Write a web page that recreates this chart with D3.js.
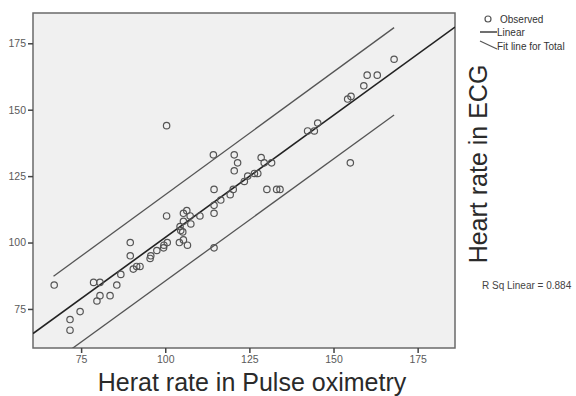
<!DOCTYPE html>
<html>
<head>
<meta charset="utf-8">
<script src="https://cdn.jsdelivr.net/npm/d3@7"></script>
<style>
  body { margin: 0; background: #fff; }
  text { font-family: 'Liberation Sans', Arial, sans-serif; }
</style>
</head>
<body>
<svg id="chart" width="576" height="396"></svg>
<script>
// observed pairs: pulse oximetry (x) vs ECG (y)
const pulseHR = [67, 71.7, 71.7, 74.7, 78.7, 80.6, 80.6, 79.7, 83.6, 85.6, 86.8, 89.6, 89.6, 90.5, 91.5, 92.5,
  95.5, 95.7, 97.5, 99.5, 99.6, 100.6, 100.4, 100.4, 104.2, 105.4, 106.6, 104.4, 104.6, 105.2, 105.4, 106.4,
  107.4, 107.6, 105.4, 110.3, 114.5, 114.5, 114.5, 114.5, 114.3, 116.5, 119.3, 120.2, 120.5, 121.5, 120.5,
  123.5, 124.5, 126.5, 127.5, 128.5, 129.4, 131.6, 130.2, 133.1, 134.1, 142.3, 144.3, 145.3, 154.2, 155.2,
  155, 159, 160, 163, 168];
const ecgHR = [84, 71, 67, 74, 85, 85, 80, 78, 80, 84, 88, 100, 95, 90, 91, 91,
  94, 95, 97, 98, 99, 100, 110, 144, 100, 101, 99, 106, 104.5, 104, 111, 112,
  110, 107, 108, 110, 120, 114, 111, 98, 133, 116, 118, 120, 133, 130, 127,
  123, 125, 126, 126, 132, 130, 130, 120, 120, 120, 142, 142, 145, 154, 155,
  130, 159, 163, 163, 169];

const xTicks = [75, 100, 125, 150, 175];
const yTicks = [75, 100, 125, 150, 175];

// fit line for total
const linIntercept = 9.9;
const linSlope = 0.92;
const rSq = 0.884;

// 95% individual prediction limits, at the ends of the data range
const piX = [66.8, 168];
const piUpper = [87.3, 180.9];
const piLower = [55.0, 148.0];

const svg = d3.select('#chart');
const plot = { left: 33, right: 455, top: 13, bottom: 348 };

const xScale = d3.scaleLinear().domain([60.7, 186.1]).range([plot.left, plot.right]);
const yScale = d3.scaleLinear().domain([60.3, 186.4]).range([plot.bottom, plot.top]);

svg.append('defs').append('clipPath').attr('id', 'clip')
  .append('rect')
  .attr('x', plot.left).attr('y', plot.top)
  .attr('width', plot.right - plot.left).attr('height', plot.bottom - plot.top);

svg.append('rect')
  .attr('x', plot.left).attr('y', plot.top)
  .attr('width', plot.right - plot.left).attr('height', plot.bottom - plot.top)
  .attr('fill', '#f0f0f0')
  .attr('stroke', '#6a6a6a')
  .attr('stroke-width', 1.5);

const g = svg.append('g').attr('clip-path', 'url(#clip)');

// prediction limit lines
const line = d3.line().x((d) => xScale(d[0])).y((d) => yScale(d[1]));
[piUpper, piLower].forEach((lim) => {
  g.append('path')
    .datum(piX.map((x, i) => [x, lim[i]]))
    .attr('fill', 'none')
    .attr('stroke', '#555')
    .attr('stroke-width', 1.3)
    .attr('d', line);
});

// linear fit across the whole axis
const xd = xScale.domain();
g.append('path')
  .datum(xd.map((x) => [x, linIntercept + linSlope * x]))
  .attr('fill', 'none')
  .attr('stroke', '#222')
  .attr('stroke-width', 1.6)
  .attr('d', line);

g.selectAll('circle')
  .data(pulseHR.map((x, i) => [x, ecgHR[i]]))
  .enter()
  .append('circle')
  .attr('cx', (d) => xScale(d[0]))
  .attr('cy', (d) => yScale(d[1]))
  .attr('r', 3.2)
  .attr('fill', 'none')
  .attr('stroke', '#555')
  .attr('stroke-width', 1.2);

// axes
const xAxis = svg.append('g')
  .attr('transform', `translate(0,${plot.bottom})`)
  .call(d3.axisBottom(xScale).tickValues(xTicks).tickSize(5).tickPadding(3));
const yAxis = svg.append('g')
  .attr('transform', `translate(${plot.left},0)`)
  .call(d3.axisLeft(yScale).tickValues(yTicks).tickSize(5).tickPadding(2));
[xAxis, yAxis].forEach((ax) => {
  ax.select('.domain').remove();
  ax.selectAll('line').attr('stroke', '#444').attr('stroke-width', 1.5);
  ax.selectAll('text')
    .attr('fill', '#5a5a5a')
    .style('font-size', '10.5px')
    .style('font-family', "'Liberation Sans', Arial, sans-serif");
});

// axis titles
svg.append('text')
  .attr('x', 252)
  .attr('y', 391)
  .attr('text-anchor', 'middle')
  .attr('fill', '#2a2a2a')
  .style('font-size', '25px')
  .text('Herat rate in Pulse oximetry');

svg.append('text')
  .attr('transform', 'translate(487,164) rotate(-90)')
  .attr('text-anchor', 'middle')
  .attr('fill', '#2a2a2a')
  .style('font-size', '25px')
  .text('Heart rate in ECG');

// legend
const leg = svg.append('g');
leg.append('circle').attr('cx', 488).attr('cy', 19).attr('r', 3)
  .attr('fill', 'none').attr('stroke', '#555').attr('stroke-width', 1.2);
leg.append('text').attr('x', 500).attr('y', 23).text('Observed');
leg.append('line').attr('x1', 480).attr('y1', 32).attr('x2', 497).attr('y2', 32)
  .attr('stroke', '#222').attr('stroke-width', 1.3);
leg.append('text').attr('x', 497).attr('y', 36).text('Linear');
leg.append('line').attr('x1', 480).attr('y1', 41).attr('x2', 497).attr('y2', 49)
  .attr('stroke', '#555').attr('stroke-width', 1.2);
leg.append('text').attr('x', 497).attr('y', 50).text('Fit line for Total');
leg.selectAll('text').attr('fill', '#333').style('font-size', '10px');

svg.append('text')
  .attr('x', 482)
  .attr('y', 289)
  .attr('fill', '#444')
  .style('font-size', '10px')
  .text(`R Sq Linear = ${rSq}`);
</script>
</body>
</html>
